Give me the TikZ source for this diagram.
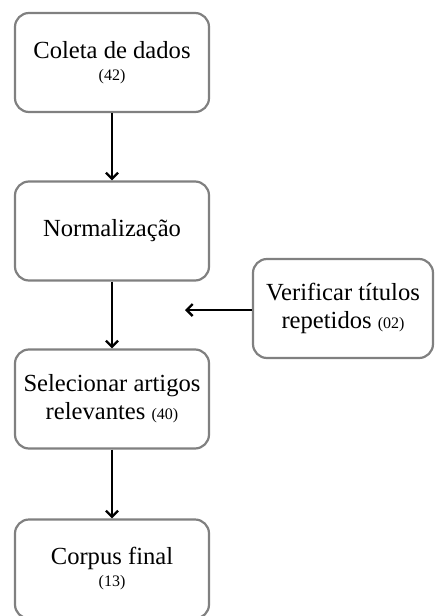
\documentclass[tikz,border=0pt]{standalone}
\usepackage{fontspec}
\setmainfont{Liberation Serif}
\usetikzlibrary{arrows.meta}

\newcommand{\qtd}[1]{{\fontsize{16}{18}\selectfont(#1)}}

\begin{document}
\begin{tikzpicture}[x=1pt,y=1pt,>={Straight Barb[length=6pt,width=12pt]},
  etapa/.style={draw=black!50,line width=2.2pt,rounded corners=14pt,
    minimum width=194pt,minimum height=99pt,align=center,
    font=\fontsize{24.6}{28}\selectfont},
  seta/.style={->,line width=2.4pt}]
  \useasboundingbox (0,0) rectangle (434,-616);
  % etapas
  \node[etapa] (coleta) at (112,-62.5) {Coleta de dados\\[-6pt]\qtd{42}};
  \node[etapa] (norm) at (112,-231) {Normalização};
  \node[etapa] (selec) at (112,-399) {Selecionar artigos\\relevantes \qtd{40}};
  \node[etapa] (corpus) at (112,-569) {Corpus final\\[-6pt]\qtd{13}};
  \node[etapa,minimum width=180pt] (verif) at (343,-308.5) {Verificar títulos\\repetidos \qtd{02}};
  % setas
  \coordinate (alvo) at (185,-310);
  \draw[seta] (coleta) -- (norm);
  \draw[seta] (norm) -- (selec);
  \draw[seta] (selec) -- (corpus);
  \draw[seta] (verif.west |- alvo) -- (alvo);
\end{tikzpicture}
\end{document}
